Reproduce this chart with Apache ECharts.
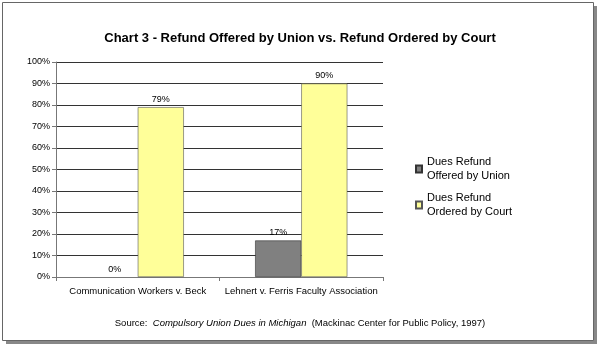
<!DOCTYPE html>
<html><head><meta charset="utf-8">
<script src="https://cdn.jsdelivr.net/npm/echarts@6/dist/echarts.min.js"></script>
<style>html,body{margin:0;padding:0;background:#fff}#c{width:600px;height:346px}</style>
</head><body><div id="c"></div>
<script>
const categories = ['Communication Workers v. Beck', 'Lehnert v. Ferris Faculty Association'];
const offeredByUnion = [0, 17];
const orderedByCourt = [79, 90];
const seriesNames = ['Dues Refund\nOffered by Union', 'Dues Refund\nOrdered by Court'];

const chart = echarts.init(document.getElementById('c'), null, {renderer: 'canvas'});
const font = 'Liberation Sans, Arial, sans-serif';
const toItems = arr => arr.map(v => v === 0 ? {value: v, itemStyle: {borderWidth: 0}} : v);
chart.setOption({
  animation: false,
  backgroundColor: '#fff',
  graphic: [
    {type: 'rect', shape: {x: 6, y: 6, width: 591, height: 338}, style: {fill: '#888'}, z: -10},
    {type: 'rect', shape: {x: 2.5, y: 2.5, width: 591, height: 338}, style: {fill: '#fff', stroke: '#666', lineWidth: 1}, z: -9},
    {type: 'text', left: 'center', top: 318, style: {
      rich: {n: {fontFamily: font, fontSize: 9.5, fill: '#000'}, i: {fontFamily: font, fontSize: 9.5, fontStyle: 'italic', fill: '#000'}},
      text: '{n|Source:  }{i|Compulsory Union Dues in Michigan}{n|  (Mackinac Center for Public Policy, 1997)}'
    }}
  ],
  title: {text: 'Chart 3 - Refund Offered by Union vs. Refund Ordered by Court', left: 'center', top: 27,
    textStyle: {fontFamily: font, fontSize: 13, fontWeight: 'bold', color: '#000'}},
  legend: {orient: 'vertical', left: 410, top: 150, itemWidth: 6, itemHeight: 7, itemGap: 8,
    icon: 'rect', textStyle: {fontFamily: font, fontSize: 11, color: '#000', lineHeight: 14}},
  grid: {left: 56, top: 62, width: 327, height: 215, containLabel: false},
  xAxis: {type: 'category', data: categories,
    axisLine: {lineStyle: {color: '#777'}}, axisTick: {show: true, length: 4, lineStyle: {color: '#777'}},
    axisLabel: {fontFamily: font, fontSize: 9.5, color: '#000', margin: 9, interval: 0}},
  yAxis: {type: 'value', min: 0, max: 100, interval: 10,
    axisLine: {show: true, lineStyle: {color: '#777'}}, axisTick: {show: true, length: 4, lineStyle: {color: '#777'}},
    axisLabel: {fontFamily: font, fontSize: 9, color: '#000', formatter: '{value}%', margin: 6},
    splitLine: {lineStyle: {color: '#333', width: 1}}},
  series: [
    {name: seriesNames[0], type: 'bar', data: toItems(offeredByUnion), barGap: '0%', barCategoryGap: '43.6%',
      itemStyle: {color: '#808080', borderColor: '#333', borderWidth: 0.6},
      label: {show: true, position: 'top', formatter: '{c}%', fontFamily: font, fontSize: 9, color: '#000', distance: 3}},
    {name: seriesNames[1], type: 'bar', data: toItems(orderedByCourt),
      itemStyle: {color: '#FFFF99', borderColor: '#555', borderWidth: 0.6},
      label: {show: true, position: 'top', formatter: '{c}%', fontFamily: font, fontSize: 9, color: '#000', distance: 3}}
  ]
});
</script></body></html>
